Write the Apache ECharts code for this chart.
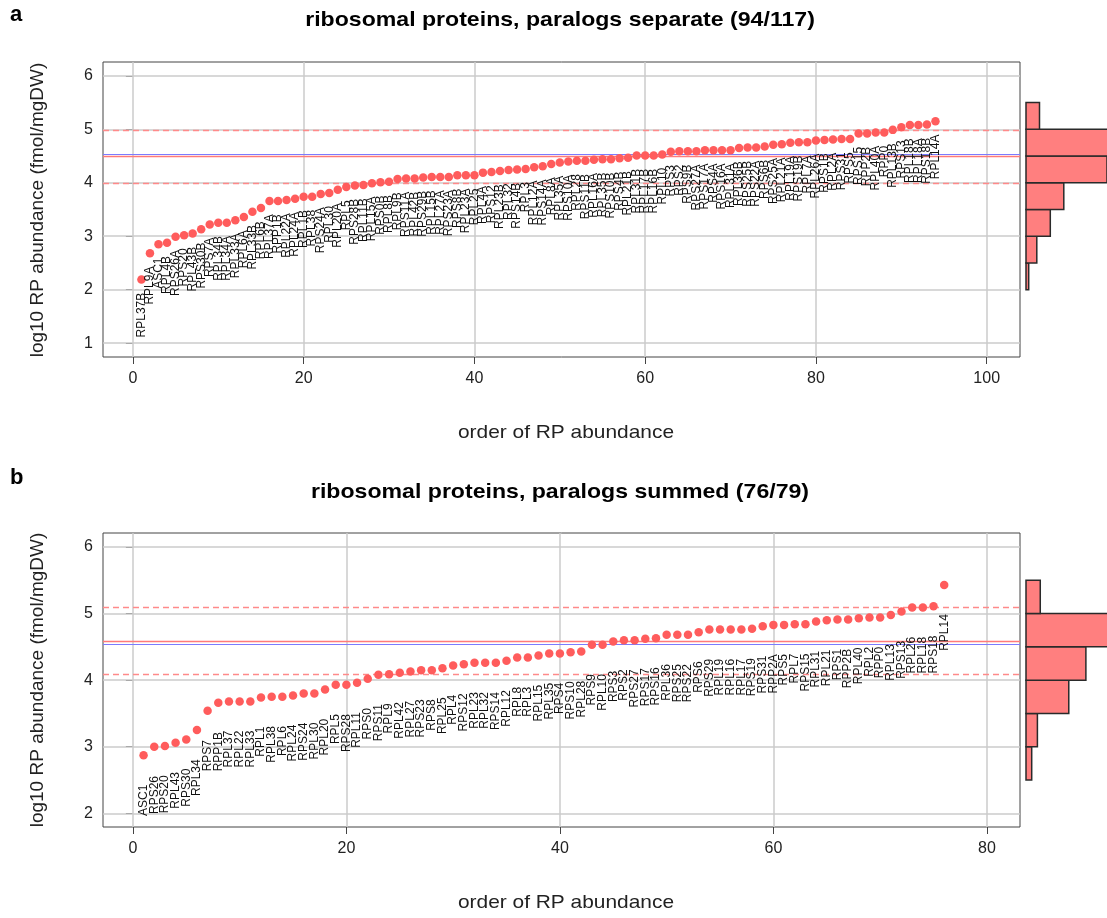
<!DOCTYPE html>
<html>
<head>
<meta charset="utf-8">
<script src="https://cdn.jsdelivr.net/npm/echarts@6/dist/echarts.min.js"></script>
<style>
  html, body { margin: 0; padding: 0; background: #ffffff; }
  #chart { width: 1107px; height: 918px; }
</style>
</head>
<body>
<div id="chart"></div>
<script>
// Ribosomal protein abundance, ranked. Panel a: paralogs kept separate; panel b: paralogs summed.

const sepNames = [
  'RPL37B','RPL9A','ASC1','RPL4B','RPS26A','RPS20','RPL43B','RPS30B','RPS7A','RPL34B',
  'RPL34A','RPL33A','RPL6A','RPL33B','RPL6B','RPL37A','RPP1B','RPL22A','RPL24A','RPL1B',
  'RPL38','RPS24A','RPL30','RPL20A','RPL5','RPS28B','RPL11B','RPL15A','RPS0B','RPL8B',
  'RPL9B','RPS11A','RPL42B','RPS29B','RPL15B','RPL27A','RPS23A','RPS8B','RPL23A','RPL25',
  'RPL4A','RPS12','RPL23B','RPL32','RPS14B','RPL3','RPL12A','RPS14A','RPL8A','RPL35A',
  'RPS10A','RPL28','RPS11B','RPL16A','RPL35B','RPS10B','RPS4B','RPL21B','RPL31B','RPL17B',
  'RPL16B','RPL10','RPS3','RPS2','RPS9B','RPS27A','RPS17A','RPS4A','RPS16A','RPL31A',
  'RPL36B','RPS25B','RPS22A','RPS6B','RPS25A','RPL21A','RPL19A','RPS19B','RPL7A','RPL26A',
  'RPS1B','RPL2A','RPS31','RPS5','RPS15','RPP2B','RPL40A','RPP0','RPL13B','RPS13',
  'RPL18B','RPL18A','RPS18B','RPL14A'
];
const sepValues = [
  2.19, 2.68, 2.85, 2.88, 2.99, 3.02, 3.05, 3.13, 3.22, 3.25,
  3.25, 3.30, 3.36, 3.46, 3.53, 3.66, 3.66, 3.68, 3.70, 3.74,
  3.74, 3.79, 3.81, 3.87, 3.92, 3.95, 3.96, 3.99, 4.01, 4.02,
  4.07, 4.08, 4.08, 4.10, 4.11, 4.11, 4.11, 4.14, 4.14, 4.14,
  4.19, 4.20, 4.22, 4.24, 4.25, 4.26, 4.29, 4.31, 4.35, 4.38,
  4.40, 4.41, 4.41, 4.43, 4.44, 4.44, 4.46, 4.47, 4.51, 4.51,
  4.51, 4.53, 4.58, 4.59, 4.59, 4.59, 4.61, 4.61, 4.61, 4.61,
  4.65, 4.66, 4.66, 4.68, 4.71, 4.72, 4.75, 4.76, 4.76, 4.79,
  4.80, 4.81, 4.82, 4.82, 4.92, 4.92, 4.94, 4.94, 4.99, 5.04,
  5.08, 5.08, 5.09, 5.15
];

const sumNames = [
  'ASC1','RPS26','RPS20','RPL43','RPS30','RPL34','RPS7','RPP1B','RPL37','RPL22',
  'RPL33','RPL1','RPL38','RPL6','RPL24','RPS24','RPL30','RPL20','RPL5','RPS28',
  'RPL11','RPS0','RPS11','RPL9','RPL42','RPL27','RPS23','RPS8','RPL25','RPL4',
  'RPS12','RPL23','RPL32','RPS14','RPL12','RPL8','RPL3','RPL15','RPL35','RPS4',
  'RPS10','RPL28','RPS9','RPL10','RPS3','RPS2','RPS27','RPS17','RPS16','RPL36',
  'RPS25','RPS22','RPS6','RPS29','RPL19','RPL16','RPL17','RPS19','RPS31','RPP2A',
  'RPS5','RPL7','RPS15','RPL31','RPL21','RPS1','RPP2B','RPL40','RPL2','RPP0',
  'RPL13','RPS13','RPL26','RPL18','RPS18','RPL14'
];
const sumValues = [
  2.87, 3.00, 3.01, 3.06, 3.11, 3.25, 3.54, 3.66, 3.68, 3.68,
  3.68, 3.74, 3.75, 3.75, 3.77, 3.80, 3.80, 3.86, 3.93, 3.93,
  3.96, 4.02, 4.08, 4.09, 4.11, 4.13, 4.15, 4.15, 4.18, 4.22,
  4.24, 4.26, 4.26, 4.26, 4.29, 4.34, 4.34, 4.37, 4.40, 4.40,
  4.42, 4.43, 4.53, 4.53, 4.58, 4.60, 4.60, 4.62, 4.63, 4.68,
  4.68, 4.68, 4.72, 4.76, 4.76, 4.76, 4.76, 4.77, 4.81, 4.83,
  4.83, 4.84, 4.84, 4.88, 4.90, 4.91, 4.91, 4.93, 4.94, 4.94,
  4.98, 5.03, 5.09, 5.09, 5.11, 5.43
];

// Side histograms: bin edges (log10 abundance) and counts per bin
const sepBinEdges = [2.0, 2.5, 3.0, 3.5, 4.0, 4.5, 5.0, 5.5];
const sepBinCounts = [1, 4, 9, 14, 30, 31, 5];
const sumBinEdges = [2.5, 3.0, 3.5, 4.0, 4.5, 5.0, 5.5];
const sumBinCounts = [2, 4, 15, 21, 29, 5];

// Reference lines: centre (red), second centre (blue), band edges (dashed)
const sepRedLine = 4.50, sepBlueLine = 4.545, sepBand = [3.995, 4.99];
const sumRedLine = 4.59, sumBlueLine = 4.54, sumBand = [4.09, 5.09];

// Tick values
const sepXTicks = [0, 20, 40, 60, 80, 100];
const sumXTicks = [0, 20, 40, 60, 80];
const sepYTicks = [1, 2, 3, 4, 5, 6];
const sumYTicks = [2, 3, 4, 5, 6];

const FONT = '"Liberation Sans", Arial, Helvetica, sans-serif';
const GRID_COLOR = '#cbcbcb';
const POINT_COLOR = '#ff5c5c';

function gridLines(xIdx, yIdx, xs, ys) {
  return {
    type: 'scatter', xAxisIndex: xIdx, yAxisIndex: yIdx, data: [], z: 1, silent: true,
    markLine: {
      z: 1, silent: true, symbol: ['none', 'none'], label: { show: false },
      lineStyle: { color: GRID_COLOR, width: 1.5, type: 'solid' },
      animation: false,
      data: xs.map(v => ({ xAxis: v })).concat(ys.map(v => ({ yAxis: v })))
    }
  };
}

function refLines(xIdx, yIdx, red, blue, band) {
  return {
    type: 'scatter', xAxisIndex: xIdx, yAxisIndex: yIdx, data: [], z: 2, silent: true,
    markLine: {
      z: 2, silent: true, symbol: ['none', 'none'], label: { show: false }, animation: false,
      data: [
        { yAxis: band[0], lineStyle: { color: '#ff8a8a', width: 1.3, type: [6, 4] } },
        { yAxis: band[1], lineStyle: { color: '#ff8a8a', width: 1.3, type: [6, 4] } },
        { yAxis: red, lineStyle: { color: '#ff7a7a', width: 1.3, type: 'solid' } },
        { yAxis: blue, lineStyle: { color: '#7b7bff', width: 1.2, type: 'solid' } }
      ]
    }
  };
}

function rankedPoints(xIdx, yIdx, names, values, labelGap) {
  return {
    type: 'scatter', xAxisIndex: xIdx, yAxisIndex: yIdx, z: 3,
    data: values.map((v, i) => [i + 1, v]),
    symbol: 'circle', symbolSize: 8.5,
    itemStyle: { color: POINT_COLOR, opacity: 1 },
    label: {
      show: true,
      formatter: p => names[p.dataIndex],
      position: 'bottom', distance: labelGap,
      rotate: 90, align: 'right', verticalAlign: 'middle',
      fontFamily: FONT, fontSize: 12, color: '#111'
    },
    labelLayout: { hideOverlap: false },
    emphasis: { disabled: true },
    animation: false
  };
}

function histogram(xIdx, yIdx, edges, counts) {
  return {
    type: 'custom', xAxisIndex: xIdx, yAxisIndex: yIdx, z: 3,
    data: counts.map((c, i) => [edges[i], edges[i + 1], c]),
    encode: { x: 2, y: [0, 1] },
    renderItem: function (params, api) {
      const lo = api.value(0), hi = api.value(1), c = api.value(2);
      const topLeft = api.coord([0, hi]);
      const botRight = api.coord([c, lo]);
      return {
        type: 'rect',
        shape: { x: topLeft[0], y: topLeft[1], width: botRight[0] - topLeft[0], height: botRight[1] - topLeft[1] },
        style: { fill: '#ff7f7f', stroke: '#2a2a2a', lineWidth: 1.5 }
      };
    },
    animation: false
  };
}

function valueAxis(gridIndex, min, max, ticks, labelMargin) {
  return {
    type: 'value', gridIndex: gridIndex, min: min, max: max,
    axisLine: { show: false },
    axisTick: { show: true, inside: false, length: 7, customValues: ticks, lineStyle: { color: '#444', width: 1 } },
    axisLabel: { show: true, customValues: ticks, fontFamily: FONT, fontSize: 16, color: '#222', margin: labelMargin },
    splitLine: { show: false }
  };
}

function hiddenAxis(gridIndex, min, max) {
  return { type: 'value', gridIndex: gridIndex, min: min, max: max, show: false, splitLine: { show: false } };
}

function wideText(x, y, text, size, bold, rotated) {
  return {
    type: 'text', x: x, y: y,
    rotation: rotated ? Math.PI / 2 : 0,
    scaleX: rotated ? 1 : 1.1,
    style: {
      text: text, fontFamily: FONT, fontSize: size, fontWeight: bold ? 'bold' : 'normal',
      fill: bold ? '#000' : '#222', align: 'center', verticalAlign: 'middle'
    }
  };
}

const chart = echarts.init(document.getElementById('chart'), null, { renderer: 'canvas' });

const boxStyle = { show: true, borderColor: '#444', borderWidth: 1, backgroundColor: 'transparent' };

const option = {
  backgroundColor: '#ffffff',
  animation: false,
  grid: [
    Object.assign({ left: 103, top: 62, width: 917, height: 295 }, boxStyle),
    { left: 1026, top: 62, width: 81, height: 295 },
    Object.assign({ left: 103, top: 533, width: 917, height: 294 }, boxStyle),
    { left: 1026, top: 533, width: 81, height: 294 }
  ],
  xAxis: [
    valueAxis(0, -3.5, 103.9, sepXTicks, 14),
    hiddenAxis(1, 0, 30),
    valueAxis(2, -2.8, 83.1, sumXTicks, 14),
    hiddenAxis(3, 0, 28.4)
  ],
  yAxis: [
    valueAxis(0, 0.74, 6.26, sepYTicks, 10),
    hiddenAxis(1, 0.74, 6.26),
    valueAxis(2, 1.794, 6.21, sumYTicks, 10),
    hiddenAxis(3, 1.794, 6.21)
  ],
  series: [
    gridLines(0, 0, sepXTicks, sepYTicks),
    refLines(0, 0, sepRedLine, sepBlueLine, sepBand),
    rankedPoints(0, 0, sepNames, sepValues, 9),
    histogram(1, 1, sepBinEdges, sepBinCounts),
    gridLines(2, 2, sumXTicks, sumYTicks),
    refLines(2, 2, sumRedLine, sumBlueLine, sumBand),
    rankedPoints(2, 2, sumNames, sumValues, 25),
    histogram(3, 3, sumBinEdges, sumBinCounts)
  ],
  graphic: [
    { type: 'text', left: 10, top: 4, style: { text: 'a', fontFamily: FONT, fontWeight: 'bold', fontSize: 22, fill: '#000' } },
    { type: 'text', left: 10, top: 467, style: { text: 'b', fontFamily: FONT, fontWeight: 'bold', fontSize: 22, fill: '#000' } },
    wideText(560, 20, 'ribosomal proteins, paralogs separate (94/117)', 21, true, false),
    wideText(560, 492, 'ribosomal proteins, paralogs summed (76/79)', 21, true, false),
    wideText(566, 433, 'order of RP abundance', 19, false, false),
    wideText(566, 903, 'order of RP abundance', 19, false, false),
    wideText(38, 210, 'log10 RP abundance (fmol/mgDW)', 19, false, true),
    wideText(38, 680, 'log10 RP abundance (fmol/mgDW)', 19, false, true)
  ]
};

chart.setOption(option);
</script>
</body>
</html>
